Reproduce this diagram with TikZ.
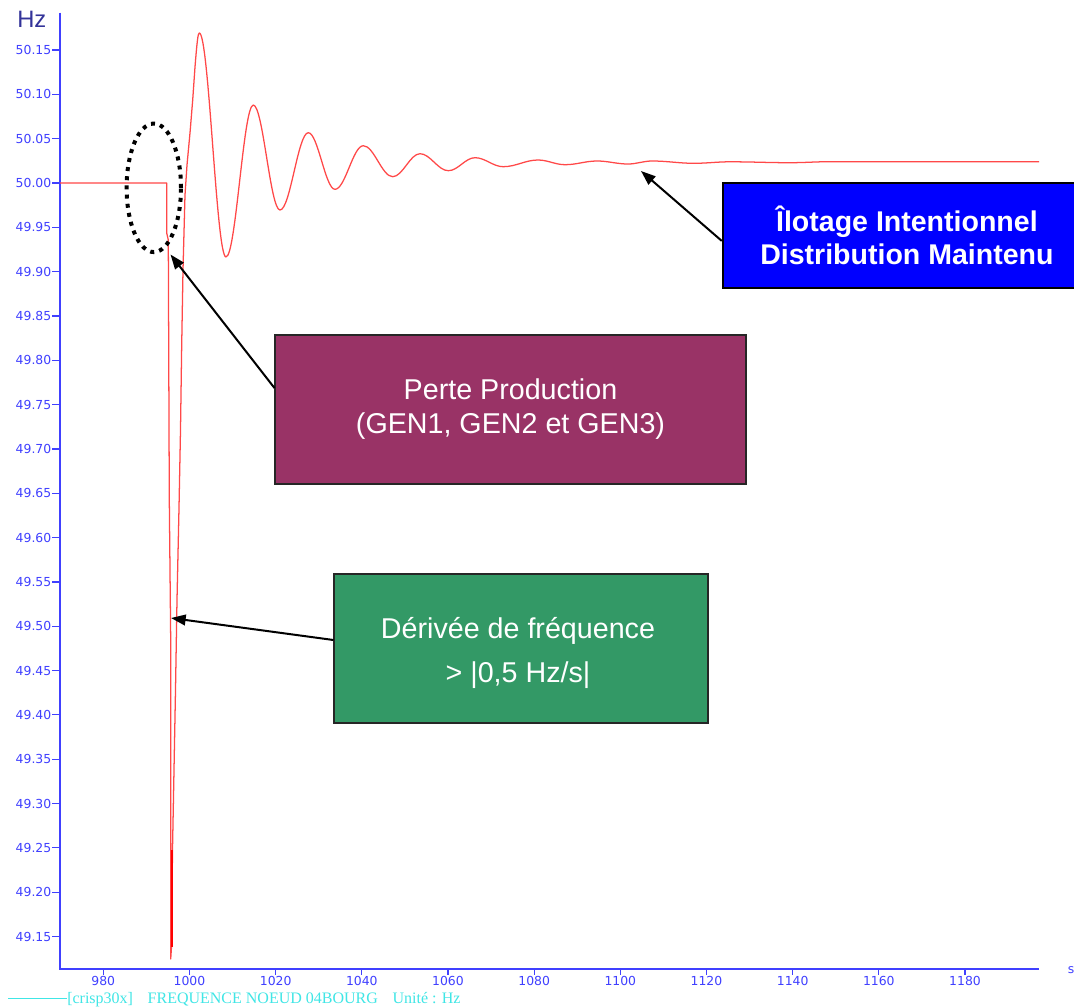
\documentclass[tikz,border=0pt]{standalone}
\usepackage{fontspec}
\setmainfont{Liberation Sans}
\newfontfamily\tickfont{DejaVu Sans}
\newfontfamily\capfont{Liberation Serif}
\usetikzlibrary{arrows.meta,calc}

\definecolor{axisblue}{RGB}{64,64,255}
\definecolor{unitblue}{RGB}{51,51,153}
\definecolor{trace}{RGB}{255,72,72}
\definecolor{boxblue}{RGB}{0,0,255}
\definecolor{boxplum}{RGB}{153,51,102}
\definecolor{boxgreen}{RGB}{51,153,102}
\definecolor{legendcyan}{RGB}{64,230,230}

\begin{document}
\begin{tikzpicture}[
  x=0.75pt, y=-0.75pt,
  axisline/.style={draw=axisblue, line width=1.1pt},
  ticklab/.style={inner sep=0pt, text=axisblue, font=\tickfont\fontsize{9.3}{10}\selectfont},
  tracepath/.style={draw=trace, line width=0.95pt, line join=round},
  tracecore/.style={draw=red, line width=2pt},
  dotring/.style={draw=black, line width=3pt, dash pattern=on 3pt off 3.9pt},
  notebox/.style={draw=black!85, line width=0.8pt, text=white, align=center, inner sep=0pt,
                  font=\fontsize{21.5}{25.5}\selectfont},
  notetext/.style={text=white, align=center, inner sep=0pt, font=\fontsize{21.5}{33}\selectfont},
  callout/.style={draw=black, line width=1.5pt, -{Triangle[length=11pt,width=8pt]}}
]
% page frame
\useasboundingbox (0,0) rectangle (1074,1007);
\clip (0,0) rectangle (1074,1007);
\fill[white] (0,0) rectangle (1074,1007);

% unit of the vertical axis
\node[anchor=base west, inner sep=0pt, text=unitblue, font=\fontsize{17.8}{20}\selectfont] (unitHz) at (17,27) {Hz};

% axes
\draw[axisline] (60,12.5) -- (60,969) -- (1039,969);

% vertical scale, 0.05 Hz every 44.33 px
\foreach \lab [count=\k from 0] in {50.15,50.10,50.05,50.00,49.95,49.90,49.85,49.80,49.75,49.70,49.65,49.60,49.55,49.50,49.45,49.40,49.35,49.30,49.25,49.20,49.15} {
  \draw[axisline, line width=0.8pt] (52,{50+44.33*\k}) -- (60,{50+44.33*\k});
  \node[ticklab, anchor=east] (ylab\k) at (51.5,{50+44.33*\k}) {\lab};
}

% horizontal scale, 20 s every 86.17 px
\foreach \t [count=\k from 0] in {980,1000,1020,1040,1060,1080,1100,1120,1140,1160,1180} {
  \draw[axisline, line width=0.8pt] ({103.3+86.17*\k},969) -- ({103.3+86.17*\k},974.5);
  \node[ticklab] (xlab\k) at ({103.3+86.17*\k},981) {\t};
}
\node[ticklab] (unitS) at (1071,970) {s};

% frequency trace
\draw[tracepath]
  (60,183) -- (166.7,183) -- (166.7,233) -- (168.3,240) -- (169.3,500)
  -- (170.7,640) -- (170.7,959) -- (171.5,947) -- (172.5,850) -- (174,770)
  -- (175.5,690) -- (177,600) -- (179,508) -- (180.5,430) -- (181.7,345)
  -- (183,270) -- (185,195) -- (187,165) -- (190,133) -- (192.7,100) -- (195,67)
  .. controls (197,42) and (198,33) .. (199.3,33)
  .. controls (209.0,33) and (216.3,257) .. (226,257)
  .. controls (235.9,257) and (243.4,105) .. (253.3,105)
  .. controls (263.0,105) and (270.3,210) .. (280,210)
  .. controls (290.3,210) and (298.0,132.7) .. (308.3,132.7)
  .. controls (318.0,132.7) and (325.3,189.3) .. (335,189.3)
  .. controls (345.3,189.3) and (353.0,145.7) .. (363.3,145.7)
  .. controls (374.0,145.7) and (382.0,176.7) .. (392.7,176.7)
  .. controls (402.6,176.7) and (410.1,153.7) .. (420,153.7)
  .. controls (430.3,153.7) and (438.0,170.7) .. (448.3,170.7)
  .. controls (458.0,170.7) and (465.3,157.7) .. (475,157.7)
  .. controls (485.3,157.7) and (493.0,166.7) .. (503.3,166.7)
  .. controls (515.9,166.7) and (525.4,160) .. (538,160)
  .. controls (547.8,160) and (555.2,164.7) .. (565,164.7)
  .. controls (576.7,164.7) and (585.4,161) .. (597,161)
  .. controls (608.3,161) and (616.7,164) .. (628,164)
  .. controls (636.7,164) and (643.3,161) .. (652,161)
  .. controls (667.3,161) and (678.7,163.3) .. (694,163.3)
  .. controls (707.1,163.3) and (716.9,161.8) .. (730,161.8)
  .. controls (751.9,161.8) and (768.1,162.7) .. (790,162.7)
  .. controls (804.6,162.7) and (815.4,161.7) .. (830,161.7)
  -- (1039,161.7);
\draw[tracecore] (172,850) -- (172,947);

% dotted ring around the onset of the drop
\draw[dotring] (153.8,187.8) ellipse [x radius=20.4pt, y radius=48.2pt];

% annotation boxes
\node[notebox, fill=boxplum, minimum width=353.25pt, minimum height=111.75pt] (perte) at (510.5,409.5)
  {Perte Production\\ (GEN1, GEN2 et GEN3)};
\node[notebox, fill=boxgreen, minimum width=280.5pt, minimum height=111.75pt] (derivee) at (521,648.5) {};
\node[notetext] (deriveeText) at ($(derivee.center)+(-3,4)$)
  {Dérivée de fréquence\\> |0,5 Hz/s|};
\node[notebox, fill=boxblue, draw=black, line width=1.5pt, minimum width=276.2pt, minimum height=79pt,
      font=\bfseries\fontsize{21.4}{25.3}\selectfont] (ilotage) at (906.9,235.4)
  {Îlotage Intentionnel\\Distribution Maintenu};

% arrow tips on the trace
\coordinate (tipIlot) at (641,171);
\coordinate (tipPerte) at (170.5,254.5);
\coordinate (tipDeriv) at (171,618);

\draw[callout] ($(ilotage.west)+(0,5.5)$) -- (tipIlot);
\draw[callout] ($(perte.west)+(0,-21.5)$) -- (tipPerte);
\draw[callout] ($(derivee.west)+(0,-8.5)$) -- (tipDeriv);

% legend line
\coordinate (legStart) at (8,998.5);
\node[anchor=base west, inner sep=0pt, text=legendcyan, font=\capfont\fontsize{12}{14}\selectfont] (legend) at (67,1003)
  {[crisp30x]\hspace{11pt}FREQUENCE NOEUD 04BOURG\hspace{11pt}Unité : Hz};
\draw[draw=legendcyan, line width=0.8pt] (legStart) -- (legStart -| legend.west);
\end{tikzpicture}
\end{document}
